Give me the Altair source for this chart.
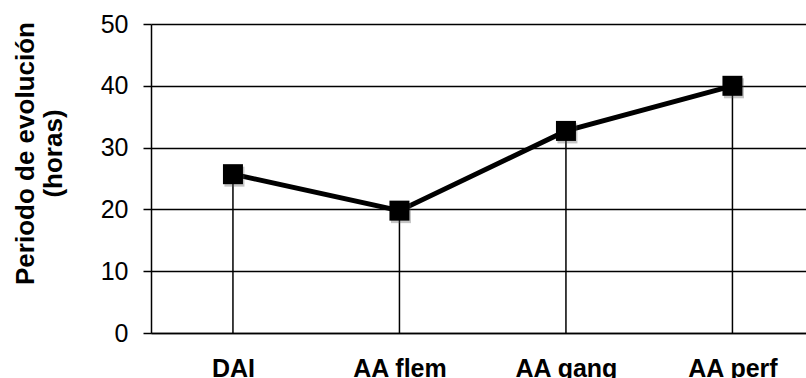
import altair as alt
import pandas as pd

# Categories and mean evolution period (hours)
categorias = ["DAI", "AA flem", "AA gang", "AA perf"]
horas = [25.7, 19.8, 32.7, 40.0]
ticks_y = [0, 10, 20, 30, 40, 50]

df = pd.DataFrame({"grupo": categorias, "horas": horas})

FONT = "Liberation Sans"

x_enc = alt.X(
    "grupo:N",
    sort=categorias,
    scale=alt.Scale(type="point", padding=0.467, align=0.527),
    axis=alt.Axis(
        title=None,
        labelFont=FONT,
        labelFontSize=25,
        labelFontWeight="bold",
        labelColor="black",
        labelAngle=0,
        labelPadding=43,
        labelBaseline="alphabetic",
        ticks=False,
        tickSize=0,
        grid=False,
        domainColor="black",
        domainWidth=1.5,
    ),
)

y_enc = alt.Y(
    "horas:Q",
    scale=alt.Scale(domain=[0, 50], nice=False),
    axis=alt.Axis(
        values=ticks_y,
        title=["Periodo de evolución", "(horas)"],
        titleFont=FONT,
        titleFontSize=26,
        titleFontWeight="bold",
        titleColor="black",
        titleAngle=-90,
        titleAlign="center",
        titleBaseline="top",
        titleLineHeight=28,
        titleX=-139,
        titleY=129,
        labelFont=FONT,
        labelFontSize=25,
        labelColor="black",
        labelPadding=15,
        tickSize=8,
        tickColor="black",
        tickWidth=1.5,
        grid=True,
        gridColor="black",
        gridWidth=1.5,
        gridOpacity=1,
        domainColor="black",
        domainWidth=1.5,
    ),
)

base = alt.Chart(df)

# Drop lines from each point down to zero
drops = base.mark_rule(color="black", strokeWidth=1.5).encode(
    x=x_enc, y=y_enc, y2=alt.datum(0)
)

linea = base.mark_line(color="black", strokeWidth=5).encode(x=x_enc, y=y_enc)

sombra = base.mark_square(
    size=400, color="#555555", opacity=0.35, xOffset=1.5, yOffset=2.5
).encode(x=x_enc, y=y_enc)

marcas = base.mark_square(size=400, color="black", opacity=1).encode(
    x=x_enc, y=y_enc
)

chart = (
    alt.layer(drops, linea, sombra, marcas)
    .properties(
        width=655,
        height=309,
        padding={"left": 151, "top": 24, "right": 0, "bottom": 45},
        autosize=alt.AutoSizeParams(type="none"),
        background="white",
    )
    .configure(font=FONT)
    .configure_view(stroke=None)
)

chart.save("out.html", embed_options={"renderer": "svg", "actions": False})
